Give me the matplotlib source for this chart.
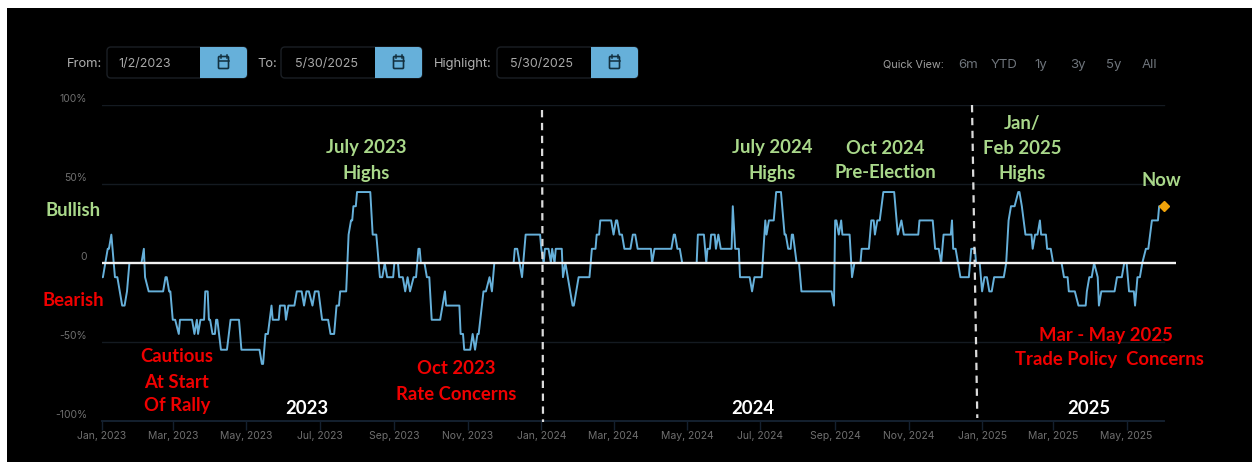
import datetime as dt
import matplotlib
matplotlib.use("Agg")
import matplotlib.pyplot as plt
from matplotlib.patches import FancyBboxPatch, Rectangle

START = dt.date(2023, 1, 1)
days_2023 = [0,1,5,6,8,11,13,15,17,19,21,23,33,35,36,39,51,53,54,56,57,59,61,64,65,75,77,79,80,82,85,86,88,89,90,92,94,95,96,99,104,107,114,116,131,133,134,136,138,141,142,147,148,152,153,155,160,162,166,168,170,172,175,177,180,183,188,190,193,195,197,198,203,205,207,208,209,211,212,223,225,228,231,233,235,237,242,243,246,247,250,252,254,256,259,261,263,
             264,265,268,270,272,274,281,283,285,286,297,298,300,301,306,308,310,312,313,317,319,322,324,326,342,343,345,347,349,352,364]
vals_2023 = [-9,-9,9,9,18,-9,-9,-18,-27,-27,-18,0,0,9,-9,-18,-18,-9,-9,-18,-18,-36,-36,-45,-36,-36,-45,-36,-45,-36,-36,-18,-18,-36,-36,-45,-45,-36,-36,-55,-55,-36,-36,-55,-55,-64,-64,-45,-45,-27,-36,-36,-27,-27,-36,-27,-27,-18,-18,-27,-18,-18,-27,-18,-18,-36,-36,-45,-45,-27,-27,-18,-18,18,27,27,36,36,45,45,18,18,-9,-9,0,-9,-9,0,0,-9,-9,-18,-9,-18,-9,-9,9,
             9,0,0,-9,-9,-36,-36,-27,-18,-27,-27,-45,-45,-55,-55,-45,-55,-45,-45,-18,-18,-9,-18,0,0,9,9,0,-9,18,18]
days_2024 = [365,367,368,371,373,374,376,377,382,383,385,387,389,391,392,394,396,405,407,410,411,413,414,423,425,427,428,430,432,434,439,441,443,445,456,457,459,473,475,476,478,480,482,494,495,500,502,503,505,506,509,510,512,514,523,524,526,529,530,538,540,542,548,551,552,554,558,560,564,567,568,570,572,573,574,577,579,581,606,608,609,610,612,614,615,621,623,625,630,631,637,639,641,642,644,646,649,658,661,664,666,678,679,690,692,695,697,699,705,706,707,709,711,713,720]
vals_2024 = [9,0,9,9,0,9,0,9,9,-9,0,-9,-18,-27,-27,-18,-9,-9,9,9,18,18,27,27,18,27,27,18,18,9,9,18,18,9,9,0,9,9,18,18,9,9,0,0,18,18,0,9,9,18,18,9,18,9,9,36,9,9,-9,-9,-18,-9,-9,27,18,27,27,45,45,18,18,9,9,18,18,0,0,-18,-18,-27,27,27,18,27,18,18,-9,0,0,9,9,27,27,18,27,27,45,45,18,27,18,18,27,27,9,9,0,18,18,27,9,9,0,-9,-9]
days_2025 = [722,725,726,729,731,733,735,737,739,741,749,751,753,755,758,761,762,764,767,772,773,775,777,779,780,784,785,788,790,797,799,802,803,808,811,817,818,820,822,824,827,828,830,841,843,847,849,851,853,857,858,860,862,864,867,869,872,877,878,882]
vals_2025 = [9,9,0,0,-18,-9,-9,-18,-18,-9,-9,0,27,36,36,45,45,36,18,18,9,18,18,27,18,18,9,9,0,0,-9,-9,-18,-18,-27,-27,-18,-9,-9,0,-9,-27,-18,-18,-9,-9,0,0,-18,-18,-27,-9,-9,0,9,9,27,27,36,36]

x_months = ["Jan, 2023","Mar, 2023","May, 2023","Jul, 2023","Sep, 2023","Nov, 2023","Jan, 2024","Mar, 2024","May, 2024","Jul, 2024","Sep, 2024","Nov, 2024","Jan, 2025","Mar, 2025","May, 2025"]
x_month_dates = ["2023-01-01","2023-03-01","2023-05-01","2023-07-01","2023-09-01","2023-11-01","2024-01-01","2024-03-01","2024-05-01","2024-07-01","2024-09-01","2024-11-01","2025-01-01","2025-03-01","2025-05-01"]
y_ticks = [100, 50, 0, -50, -100]
y_labels = ["100%", "50%", "0", "-50%", "-100%"]

GREEN = "#a9d88a"
RED = "#f00000"
BLUE = "#66b0da"
W, H = 1252, 462

def to_date(d):
    return START + dt.timedelta(days=d)

days = days_2023 + days_2024 + days_2025
vals = vals_2023 + vals_2024 + vals_2025
dates = [to_date(d) for d in days]

plt.rcParams["font.family"] = ["Inter", "DejaVu Sans"]
fig = plt.figure(figsize=(W/100, H/100), dpi=100, facecolor="white")

bg = fig.add_axes([0, 0, 1, 1], zorder=0)
bg.set_xlim(0, W); bg.set_ylim(H, 0); bg.axis("off")
bg.add_patch(Rectangle((7, 8), W-7, H-8, fc="black", ec="none"))

PX_L, PX_R, PX_T, PX_B = 101.7, 1176.0, 105.3, 420.7
ax = fig.add_axes([PX_L/W, 1-PX_B/H, (PX_R-PX_L)/W, (PX_B-PX_T)/H], zorder=1)
ax.patch.set_alpha(0)
ax.set_ylim(-100, 100)
xmin = to_date(0)
xmax = dt.date.fromordinal(START.toordinal() + round((PX_R-PX_L)/1.205))
ax.set_xlim(xmin, xmax)
for s in ax.spines.values():
    s.set_visible(False)
grid_end = to_date(882)
for v in [100, 50, -50]:
    ax.plot([xmin, grid_end], [v, v], color="#141a21", lw=1.0, zorder=1)
ax.plot([xmin, grid_end], [-100, -100], color="#14202f", lw=1.4, zorder=1, clip_on=False)
ax.plot(dates, vals, color=BLUE, lw=1.4, solid_joinstyle="round", zorder=2)
ax.axhline(0, color="#f2f2f2", lw=1.7, zorder=3)
ax.plot([dates[-1]], [vals[-1]], marker="D", ms=5.5, color="#f0a30a", ls="none", zorder=4)

ax.set_yticks(y_ticks)
ax.set_yticklabels(y_labels, color="#6f6f6f", fontsize=7.5, va="center")
for t in ax.get_yticklabels():
    t.set_y(t.get_position()[1])
ax.set_xticks([dt.date.fromisoformat(s) for s in x_month_dates])
ax.set_xticklabels(x_months, color="#6f6f6f", fontsize=7.5)
ax.tick_params(axis="y", length=0, pad=10, labelleft=False)
ax.tick_params(axis="x", length=6.5, width=1.0, color="#14202f", pad=1.2)

ov = fig.add_axes([0, 0, 1, 1], zorder=2)
ov.set_xlim(0, W); ov.set_ylim(H, 0); ov.axis("off"); ov.patch.set_alpha(0)

# y tick labels sit about six pixels above their gridlines
for v, s in zip(y_ticks, y_labels):
    ax.annotate(s, xy=(0, v), xycoords=("axes fraction", "data"), xytext=(-10.5, 4.2),
                textcoords="offset points", ha="right", va="center",
                color="#6f6f6f", fontsize=7.5)

ov.plot([542, 543], [110, 422], color="#dcdcdc", lw=1.6, ls=(0, (3.3, 2.5)))
ov.plot([972, 977.3], [105, 418], color="#dcdcdc", lw=1.6, ls=(0, (3.3, 2.5)))

def lab(x, y, s, c, size=13.3):
    ov.text(x, y + 1, s, color=c, fontsize=size, ha="center", va="center",
            family=["Lato", "DejaVu Sans"], fontweight="bold")

lab(366, 147, "July 2023", GREEN); lab(366, 172, "Highs", GREEN)
lab(772, 147, "July 2024", GREEN); lab(772, 172, "Highs", GREEN)
lab(885, 147, "Oct 2024", GREEN); lab(885, 172, "Pre-Election", GREEN)
lab(1022, 123, "Jan/", GREEN); lab(1022, 148, "Feb 2025", GREEN); lab(1022, 173, "Highs", GREEN)
lab(1161, 180, "Now", GREEN)
lab(73, 210, "Bullish", GREEN)
lab(73, 299, "Bearish", RED)
lab(177, 355, "Cautious", RED); lab(177, 381, "At Start", RED); lab(177, 405, "Of Rally", RED)
lab(456, 368, "Oct 2023", RED); lab(456, 393, "Rate Concerns", RED)
lab(1106, 334, "Mar - May 2025", RED); lab(1109, 359, "Trade Policy  Concerns", RED)
lab(307, 408, "2023", "white"); lab(753, 408, "2024", "white"); lab(1089, 408, "2025", "white")

def picker(x0, x1, split, label, lx, value, vx):
    y0, y1 = 47, 78
    ov.add_patch(FancyBboxPatch((x0+4, y0+4), x1-x0-8, y1-y0-8, boxstyle="round,pad=4",
                                fc="#000000", ec="#1b1f24", lw=1))
    ov.add_patch(FancyBboxPatch((split+4, y0+4), x1-split-8, y1-y0-8, boxstyle="round,pad=4",
                                fc=BLUE, ec="none"))
    ov.add_patch(Rectangle((split, y0), 7, y1-y0, fc=BLUE, ec="none"))
    ov.text(lx, 64, label, color="#b0b0b0", fontsize=9.3, ha="right", va="center")
    ov.text(vx, 64, value, color="#a8a8a8", fontsize=9.0, ha="left", va="center")
    c = (split + x1) / 2
    ov.add_patch(FancyBboxPatch((c-4, 57.5), 8, 10, boxstyle="round,pad=1",
                                fc="none", ec="#12303f", lw=1.2))
    ov.plot([c-5, c+5], [60.5, 60.5], color="#12303f", lw=1.1)
    ov.plot([c-3, c-3], [55, 57.5], color="#12303f", lw=1.1)
    ov.plot([c+3, c+3], [55, 57.5], color="#12303f", lw=1.1)

picker(107, 247, 200, "From:", 102, "1/2/2023", 118)
picker(281, 422, 375, "To:", 277, "5/30/2025", 295)
picker(497, 638, 591, "Highlight:", 492, "5/30/2025", 510)

ov.text(944, 65, "Quick View:", color="#a0a0a0", fontsize=7.8, ha="right", va="center")
for x, s in zip([968, 1004, 1041, 1078, 1114, 1149], ["6m", "YTD", "1y", "3y", "5y", "All"]):
    ov.text(x, 65, s, color="#6f757c", fontsize=9.5, ha="center", va="center")

fig.savefig("out.png", dpi=100, facecolor="white")
